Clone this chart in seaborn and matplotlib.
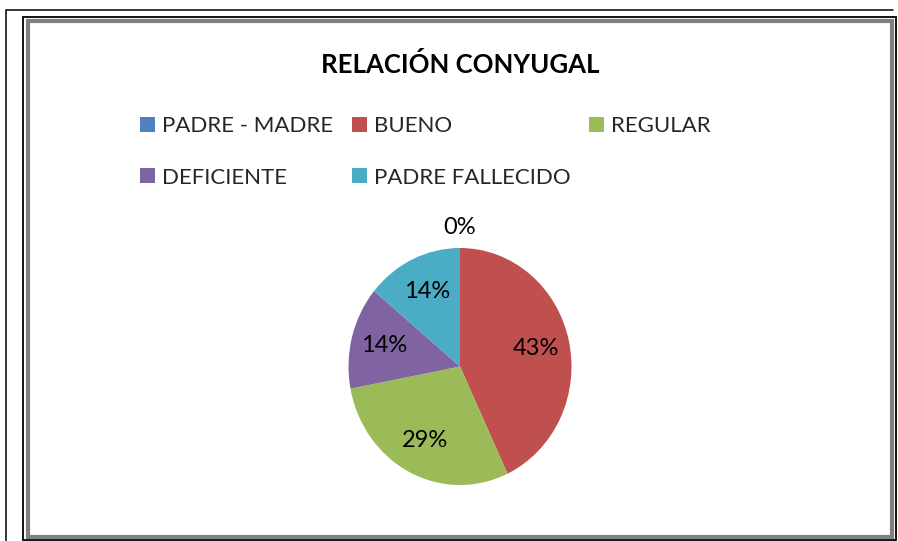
import matplotlib
matplotlib.use('Agg')
import matplotlib.pyplot as plt
import seaborn as sns
import numpy as np
from matplotlib.patches import Patch, Rectangle
from matplotlib.lines import Line2D

# Datos del gráfico
categorias = ["PADRE - MADRE", "BUENO", "REGULAR", "DEFICIENTE", "PADRE FALLECIDO"]
porcentajes = [0, 43, 29, 14, 14]
colores = ["#4F81BD", "#C0504D", "#9BBB59", "#8064A2", "#4BACC6"]
titulo = "RELACIÓN CONYUGAL"

sns.set_style("white")
plt.rcParams['font.family'] = ['Lato', 'DejaVu Sans']

W, H = 898, 541
fig = plt.figure(figsize=(W / 100, H / 100), dpi=100)
fig.patch.set_facecolor('white')


def fx(px):
    return px / W


def fy(py):
    return 1 - py / H


# Marcos (borde externo y borde del área del gráfico)
fig.add_artist(Line2D([fx(6), fx(6), fx(893)], [fy(541), fy(10), fy(10)],
                      transform=fig.transFigure, color='black', lw=1.1))
fig.add_artist(Rectangle((fx(23), fy(540)), fx(896) - fx(23), fy(17) - fy(540),
                         transform=fig.transFigure, fill=False, ec='black', lw=1.3))
fig.add_artist(Rectangle((fx(28), fy(536.5)), fx(891.5) - fx(28), fy(21) - fy(536.5),
                         transform=fig.transFigure, fill=False, ec='#808080', lw=3.0))

# Título
fig.text(fx(460), fy(73), titulo, ha='center', va='baseline',
         fontsize=18.5, fontweight='bold', color='black')

# Pastel
cx, cy, rx, ry = 460, 366.5, 111.5, 118.5
ax = fig.add_axes([fx(cx - 1.25 * rx), fy(cy + 1.25 * ry), 2.5 * rx / W, 2.5 * ry / H])
wedges, textos, autotextos = ax.pie(
    porcentajes, colors=colores, startangle=90, counterclock=False,
    autopct='%1.0f%%', pctdistance=0.7, radius=1,
    wedgeprops=dict(linewidth=0), textprops=dict(fontsize=17, color='black'))
ax.set_aspect('auto')
ax.set_xlim(-1.25, 1.25)
ax.set_ylim(-1.25, 1.25)
ax.axis('off')

# Etiqueta del sector 0% fuera del pastel
for w, t, v in zip(wedges, autotextos, porcentajes):
    if v == 0:
        ang = np.deg2rad((w.theta1 + w.theta2) / 2)
        t.set_position((1.17 * np.cos(ang), 1.17 * np.sin(ang)))

# Leyenda (3 columnas, orden por filas)
handles = [Patch(facecolor=c, edgecolor='none') for c in colores]
orden = [0, 3, 1, 4, 2]
fig.legend([handles[i] for i in orden], [categorias[i] for i in orden],
           ncol=3, loc='upper left', bbox_to_anchor=(fx(140), fy(116)),
           frameon=False, fontsize=16, handlelength=0.68, handleheight=0.68,
           handletextpad=0.3, columnspacing=0.85, labelspacing=1.42,
           borderpad=0, borderaxespad=0)

fig.savefig('out.png', dpi=100, facecolor='white')
